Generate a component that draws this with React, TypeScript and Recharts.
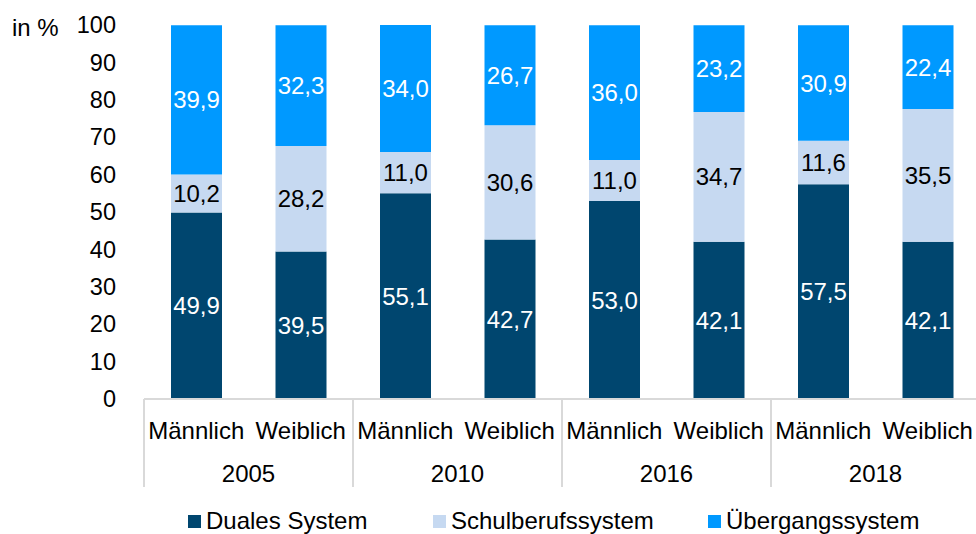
import React from 'react';
import { BarChart, Bar, XAxis, YAxis, Legend, LabelList } from 'recharts';

const categories = ['Männlich', 'Weiblich', 'Männlich', 'Weiblich', 'Männlich', 'Weiblich', 'Männlich', 'Weiblich'];
const years = ['2005', '2005', '2010', '2010', '2016', '2016', '2018', '2018'];
const duales = [49.9, 39.5, 55.1, 42.7, 53.0, 42.1, 57.5, 42.1];
const schul = [10.2, 28.2, 11.0, 30.6, 11.0, 34.7, 11.6, 35.5];
const uebergang = [39.9, 32.3, 34.0, 26.7, 36.0, 23.2, 30.9, 22.4];
const yTicks = [0, 10, 20, 30, 40, 50, 60, 70, 80, 90, 100];

const seriesNames = ['Duales System', 'Schulberufssystem', 'Übergangssystem'];
const COLORS = ['#00466F', '#C6D9F1', '#0099FF'];

const data = categories.map((c, i) => ({
  gender: c,
  year: years[i],
  duales: duales[i],
  schul: schul[i],
  uebergang: uebergang[i],
}));

const FONT = '"Liberation Sans", Arial, sans-serif';
const FS = 24;
const CHART_W = 980;
const CHART_H = 534;
const MARGIN = { top: 25, right: 0, left: 0, bottom: 0 };
const Y_W = 144;
const LEGEND_H = 26;
const X_H = 135 - LEGEND_H;
const BAND = (CHART_W - Y_W) / categories.length;

const fmt = (v: any) => Number(v).toFixed(1).replace('.', ',');

const XTick = (props: any) => {
  const { x, index, payload } = props;
  const isFirst = index % 2 === 0;
  return (
    <g>
      <text x={x} y={430} textAnchor="middle" dominantBaseline="central" fontFamily={FONT} fontSize={FS} fill="#000">
        {payload.value}
      </text>
      {isFirst && (
        <>
          <line x1={x - BAND / 2} x2={x - BAND / 2} y1={399} y2={487} stroke="#D9D9D9" strokeWidth={2} />
          <text x={x + BAND / 2} y={473} textAnchor="middle" dominantBaseline="central" fontFamily={FONT} fontSize={FS} fill="#000">
            {years[index]}
          </text>
        </>
      )}
    </g>
  );
};

const YTick = (props: any) => {
  const { y, payload } = props;
  return (
    <text x={116} y={y} textAnchor="end" dominantBaseline="central" fontFamily={FONT} fontSize={23.5} fill="#000">
      {payload.value}
    </text>
  );
};

const legendLeft = [188, 433, 708];

const LegendContent = () => (
  <div style={{ position: 'relative', width: 976, height: LEGEND_H }}>
    {seriesNames.map((n, i) => (
      <div key={n} style={{ position: 'absolute', left: legendLeft[i], top: 0, display: 'flex', alignItems: 'center', height: LEGEND_H }}>
        <span style={{ display: 'inline-block', width: 13, height: 13, background: COLORS[i], marginRight: 5 }} />
        <span style={{ fontFamily: FONT, fontSize: FS, lineHeight: '24px', color: '#000', whiteSpace: 'nowrap' }}>{n}</span>
      </div>
    ))}
  </div>
);

export default function App() {
  return (
    <div style={{ position: 'absolute', left: 0, top: 0, width: 976, height: 534, overflow: 'hidden', background: '#fff' }}>
      <BarChart width={CHART_W} height={CHART_H} data={data} margin={MARGIN} barSize={51}>
        <XAxis
          dataKey="gender"
          height={X_H}
          tickLine={false}
          axisLine={{ stroke: '#D9D9D9', strokeWidth: 2 }}
          tick={<XTick />}
          interval={0}
        />
        <YAxis
          width={Y_W}
          domain={[0, 100]}
          ticks={yTicks}
          tickLine={false}
          axisLine={false}
          tick={<YTick />}
          interval={0}
          label={{
            content: () => (
              <text x={12} y={27} dominantBaseline="central" fontFamily={FONT} fontSize={FS} fill="#000">
                in %
              </text>
            ),
          }}
        />
        <Legend
          verticalAlign="bottom"
          content={<LegendContent />}
          wrapperStyle={{ left: 0, top: 508, width: 976, height: LEGEND_H }}
        />
        <Bar dataKey="duales" stackId="a" fill={COLORS[0]} isAnimationActive={false} name={seriesNames[0]}>
          <LabelList dataKey="duales" position="center" formatter={fmt} fill="#FFFFFF" fontFamily={FONT} fontSize={FS} />
        </Bar>
        <Bar dataKey="schul" stackId="a" fill={COLORS[1]} isAnimationActive={false} name={seriesNames[1]}>
          <LabelList dataKey="schul" position="center" formatter={fmt} fill="#000000" fontFamily={FONT} fontSize={FS} />
        </Bar>
        <Bar dataKey="uebergang" stackId="a" fill={COLORS[2]} isAnimationActive={false} name={seriesNames[2]}>
          <LabelList dataKey="uebergang" position="center" formatter={fmt} fill="#FFFFFF" fontFamily={FONT} fontSize={FS} />
        </Bar>
      </BarChart>
    </div>
  );
}
